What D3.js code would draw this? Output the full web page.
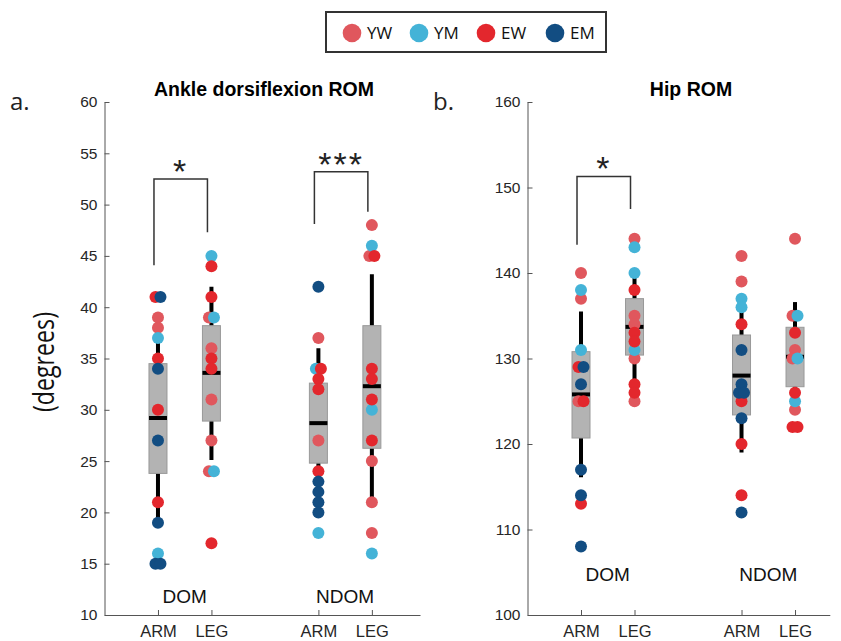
<!DOCTYPE html>
<html>
<head>
<meta charset="utf-8">
<script src="https://cdn.jsdelivr.net/npm/d3@7"></script>
<style>
  body { margin: 0; background: #fff; }
  svg { display: block; }
</style>
</head>
<body>
<svg id="chart" width="841" height="641"></svg>
<script>
// cohorts + colours
const cohorts = ["YW", "YM", "EW", "EM"];
const cohortColors = ["#e0575d", "#44b3d7", "#e3272d", "#124d82"];

// x categories (positions on the x scale)
const groupPos = [1, 2, 4, 5];
const groupTicks = ["ARM", "LEG", "ARM", "LEG"];
const sideLabels = ["DOM", "NDOM"];

// ankle dorsiflexion ROM, one object per group
const ankleDomArm = {YW: [39, 38], YM: [37, 16], EW: [41, 35, 30, 21], EM: [41, 34, 27, 19, 15, 15]};
const ankleDomLeg = {YW: [39, 36, 31, 27, 24], YM: [45, 39, 24], EW: [44, 41, 35, 34, 17], EM: []};
const ankleNdomArm = {YW: [37, 27], YM: [34, 18], EW: [34, 33, 32, 24], EM: [42, 23, 22, 21, 20]};
const ankleNdomLeg = {YW: [48, 45, 25, 21, 18], YM: [46, 30, 16], EW: [45, 34, 33, 31, 27], EM: []};
const ankleLow = [19, 25.1, 24, 21];
const ankleQ1 = [23.8, 28.9, 24.8, 26.25];
const ankleMedian = [29.2, 33.6, 28.7, 32.3];
const ankleQ3 = [34.5, 38.2, 32.6, 38.2];
const ankleHigh = [39, 42, 36, 43.2];
const ankleBrackets = [
  {from: 0, to: 1, top: 52.5, left: 44.1, right: 47.3, label: "*"},
  {from: 2, to: 3, top: 53.2, left: 48.1, right: 49.3, label: "***"}
];

// hip ROM
const hipDomArm = {YW: [140, 137, 125], YM: [138, 131], EW: [129, 125, 113], EM: [129, 127, 117, 114, 108]};
const hipDomLeg = {YW: [144, 135, 134, 130, 125], YM: [143, 140, 131], EW: [138, 133, 132, 127, 126], EM: []};
const hipNdomArm = {YW: [142, 139], YM: [137, 136], EW: [134, 125, 120, 114], EM: [131, 127, 126, 126, 123, 112]};
const hipNdomLeg = {YW: [144, 135, 131, 130, 124], YM: [135, 130, 125], EW: [133, 126, 122, 122], EM: []};
const hipLow = [116.1, 127, 119, 124];
const hipQ1 = [120.7, 130.4, 123.4, 126.7];
const hipMedian = [125.8, 133.7, 128, 130.2];
const hipQ3 = [130.8, 137, 132.75, 133.65];
const hipHigh = [135.5, 140.3, 135.5, 136.6];
const hipBrackets = [
  {from: 0, to: 1, top: 151.3, left: 143.3, right: 147.5, label: "*"}
];

const svg = d3.select("#chart");
const color = d3.scaleOrdinal().domain(cohorts).range(cohortColors);

function drawPanel(opt) {
  const x = d3.scaleLinear().domain(opt.xDomain).range(opt.xRange);
  const y = d3.scaleLinear().domain(opt.yDomain).range([615, 102]);
  const g = svg.append("g");

  // axes
  const yAxis = g.append("g")
    .attr("transform", "translate(" + opt.xRange[0] + ",0)")
    .call(d3.axisLeft(y).tickValues(opt.yTicks).tickSizeInner(-5).tickSizeOuter(0).tickPadding(7));
  const xAxis = g.append("g")
    .attr("transform", "translate(0,615)")
    .call(d3.axisBottom(x).tickValues(groupPos).tickFormat((d, i) => groupTicks[i])
      .tickSizeInner(-5).tickSizeOuter(0).tickPadding(10));
  [yAxis, xAxis].forEach(a => {
    a.select(".domain").attr("stroke", "#555");
    a.selectAll(".tick line").attr("stroke", "#555");
    a.selectAll("text").attr("fill", "#262626").style("font-family", "Liberation Sans, Arial, sans-serif");
  });
  yAxis.selectAll("text").style("font-size", "15.5px");
  xAxis.selectAll("text").style("font-size", "16.5px");

  const boxW = 18;
  // whiskers
  g.selectAll(".whisker").data(groupPos).enter().append("line")
    .attr("x1", d => x(d)).attr("x2", d => x(d))
    .attr("y1", (d, i) => y(opt.low[i])).attr("y2", (d, i) => y(opt.high[i]))
    .attr("stroke", "#000").attr("stroke-width", 4);
  // boxes
  g.selectAll(".box").data(groupPos).enter().append("rect")
    .attr("x", d => x(d) - boxW / 2).attr("width", boxW)
    .attr("y", (d, i) => y(opt.q3[i]))
    .attr("height", (d, i) => y(opt.q1[i]) - y(opt.q3[i]))
    .attr("fill", "#b3b3b3").attr("stroke", "#999").attr("stroke-width", 1);
  // medians
  g.selectAll(".median").data(groupPos).enter().append("line")
    .attr("x1", d => x(d) - boxW / 2).attr("x2", d => x(d) + boxW / 2)
    .attr("y1", (d, i) => y(opt.median[i])).attr("y2", (d, i) => y(opt.median[i]))
    .attr("stroke", "#000").attr("stroke-width", 4);

  // points, duplicates in a group get dodged sideways
  let pts = [];
  opt.groups.forEach((grp, gi) => {
    let list = [];
    cohorts.forEach(c => grp[c].forEach(v => list.push({pos: groupPos[gi], value: v, cohort: c})));
    const counts = d3.rollup(list, v => v.length, d => d.value);
    const seen = new Map();
    list.forEach(p => {
      const n = counts.get(p.value), k = seen.get(p.value) || 0;
      seen.set(p.value, k + 1);
      p.dx = n > 1 ? (k - (n - 1) / 2) * 5 : 0;
    });
    pts = pts.concat(list);
  });
  g.selectAll(".pt").data(pts).enter().append("circle")
    .attr("cx", d => x(d.pos) + d.dx)
    .attr("cy", d => y(d.value))
    .attr("r", 6)
    .attr("fill", d => color(d.cohort));

  // significance brackets
  opt.brackets.forEach(b => {
    const x1 = x(groupPos[b.from]) - 4, x2 = x(groupPos[b.to]) - 4;
    g.append("path")
      .attr("d", "M" + x1 + "," + y(b.left) + "V" + y(b.top) + "H" + x2 + "V" + y(b.right))
      .attr("fill", "none").attr("stroke", "#333").attr("stroke-width", 1.5);
    g.append("text")
      .attr("x", (x1 + x2) / 2).attr("y", y(b.top) - 14 + 18)
      .attr("text-anchor", "middle")
      .style("font-family", "Liberation Sans, Arial, sans-serif")
      .style("font-size", "34px").style("letter-spacing", "2px")
      .attr("fill", "#222")
      .text(b.label);
  });

  // DOM / NDOM labels
  sideLabels.forEach((s, i) => {
    g.append("text")
      .attr("x", (x(groupPos[i * 2]) + x(groupPos[i * 2 + 1])) / 2)
      .attr("y", y(opt.sideY))
      .attr("text-anchor", "middle")
      .style("font-family", "Liberation Sans, Arial, sans-serif")
      .style("font-size", "19px").attr("fill", "#111")
      .text(s);
  });

  // title + panel letter
  g.append("text").attr("x", opt.titleX).attr("y", 96)
    .attr("text-anchor", "middle")
    .style("font-family", "Liberation Sans, Arial, sans-serif")
    .style("font-size", "19.5px").style("font-weight", "bold")
    .text(opt.title);
  g.append("text").attr("x", opt.letterX).attr("y", 110)
    .style("font-family", "Open Sans, sans-serif")
    .style("font-size", "24px").attr("fill", "#222")
    .text(opt.letter);
}

drawPanel({
  xDomain: [0, 5.9], xRange: [104.5, 420],
  yDomain: [10, 60], yTicks: d3.range(10, 61, 5),
  groups: [ankleDomArm, ankleDomLeg, ankleNdomArm, ankleNdomLeg],
  low: ankleLow, q1: ankleQ1, median: ankleMedian, q3: ankleQ3, high: ankleHigh,
  brackets: ankleBrackets, sideY: 11.2,
  title: "Ankle dorsiflexion ROM", titleX: 264, letter: "a.", letterX: 10
});

drawPanel({
  xDomain: [0, 5.65], xRange: [527.5, 829.8],
  yDomain: [100, 160], yTicks: d3.range(100, 161, 10),
  groups: [hipDomArm, hipDomLeg, hipNdomArm, hipNdomLeg],
  low: hipLow, q1: hipQ1, median: hipMedian, q3: hipQ3, high: hipHigh,
  brackets: hipBrackets, sideY: 104,
  title: "Hip ROM", titleX: 691, letter: "b.", letterX: 433
});

// y label
svg.append("text")
  .attr("transform", "translate(42,362) rotate(-90)")
  .attr("text-anchor", "middle").attr("dominant-baseline", "central")
  .style("font-family", "Open Sans, sans-serif").style("font-size", "29px")
  .attr("textLength", 100).attr("lengthAdjust", "spacingAndGlyphs")
  .attr("fill", "#111")
  .text("(degrees)");

// legend
const legend = svg.append("g");
legend.append("rect").attr("x", 326).attr("y", 12).attr("width", 280).attr("height", 40)
  .attr("fill", "#fff").attr("stroke", "#333").attr("stroke-width", 2);
const legendX = [352, 419, 486, 555];
cohorts.forEach((c, i) => {
  legend.append("circle").attr("cx", legendX[i]).attr("cy", 33).attr("r", 9.3).attr("fill", color(c));
  legend.append("text").attr("x", legendX[i] + 15).attr("y", 39)
    .style("font-family", "Open Sans, sans-serif").style("font-size", "17px")
    .attr("fill", "#111").text(c);
});
</script>
</body>
</html>
